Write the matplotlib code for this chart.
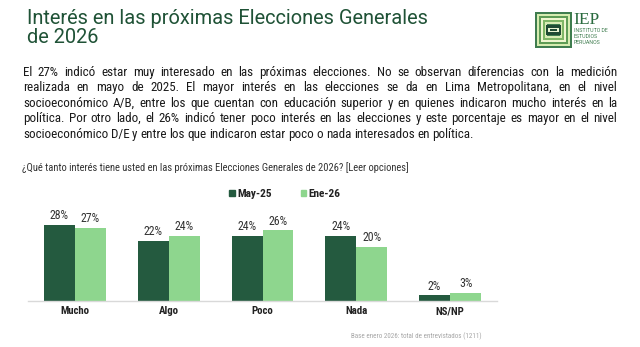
import math
import matplotlib
matplotlib.use("Agg")
import matplotlib.pyplot as plt
from matplotlib import font_manager
from matplotlib.patches import Patch, Rectangle
from matplotlib.backends.backend_agg import get_hinting_flag

# data
categories = ["Mucho", "Algo", "Poco", "Nada", "NS/NP"]
may25 = [28, 22, 24, 24, 2]
ene26 = [27, 24, 26, 20, 3]
series_names = ["May-25", "Ene-26"]

title = "Interés en las próximas Elecciones Generales\nde 2026"
body_lines = [
    "El 27% indicó estar muy interesado en las próximas elecciones. No se observan diferencias con la medición",
    "realizada en mayo de 2025. El mayor interés en las elecciones se da en Lima Metropolitana, en el nivel",
    "socioeconómico A/B, entre los que cuentan con educación superior y en quienes indicaron mucho interés en la",
    "política. Por otro lado, el 26% indicó tener poco interés en las elecciones y este porcentaje es mayor en el nivel",
    "socioeconómico D/E y entre los que indicaron estar poco o nada interesados en política.",
]
question = "¿Qué tanto interés tiene usted en las próximas Elecciones Generales de 2026? [Leer opciones]"
footnote = "Base enero 2026: total de entrevistados (1211)"

DARK = "#245a3f"
LIGHT = "#8ed68e"
TITLE_C = "#1f5236"

installed = {f.name for f in font_manager.fontManager.ttflist}


def pick(*names):
    for n in names:
        if n in installed:
            return n
    return "DejaVu Sans"


narrow = pick("Roboto Condensed", "Liberation Sans Narrow", "Roboto")
main = pick("Roboto", "DejaVu Sans")

W, H = 640, 347
fig = plt.figure(figsize=(6.4, 3.47), dpi=100)
fig.patch.set_facecolor("white")


def fx(px):
    return px / W


def fy(py):
    return 1 - py / H


# title
fig.text(fx(27), fy(9), title, fontsize=14.4, family=main, color=TITLE_C,
         va="top", ha="left", linespacing=1.0)

renderer = fig.canvas.get_renderer()


def snap_baseline(t, row):
    # agg places each word's bitmap by its own ink box, so words jump by a
    # pixel or so; shift every word so its baseline lands on the same row
    font = renderer._prepare_font(t.get_fontproperties())
    font.set_text(t.get_text(), 0, flags=get_hinting_flag())
    d = font.get_descent() / 64
    h = font.get_width_height()[1] / 64
    a = h - d
    y = row - math.floor(a) + math.floor(h) - d
    t.set_y(1 - y / H)


# justified paragraph, one text per word
left, right = 23, 617
line_y = [76, 91, 107, 122, 138]
for i, line in enumerate(body_lines):
    words = line.split(" ")
    texts = [fig.text(0, fy(line_y[i]), w, fontsize=9.4, family=narrow,
                      color="#1a1a1a", va="baseline", ha="left") for w in words]
    widths = [t.get_window_extent(renderer).width for t in texts]
    if i < len(body_lines) - 1:
        gap = (right - left - sum(widths)) / (len(words) - 1)
    else:
        gap = 2.6
    x = left
    for t, w in zip(texts, widths):
        t.set_x(fx(x))
        snap_baseline(t, line_y[i])
        x += w + gap

# question
fig.text(fx(22), fy(168), question, fontsize=7.6, family=narrow,
         color="#333333", va="center", ha="left")

# chart
ax = fig.add_axes([fx(28), fy(300.7), fx(497) - fx(28), (300.7 - 185) / H])
xs = range(len(categories))
bw = 0.33
b1 = ax.bar([x - bw / 2 for x in xs], may25, bw, color=DARK)
b2 = ax.bar([x + bw / 2 for x in xs], ene26, bw, color=LIGHT)
for bars in (b1, b2):
    ax.bar_label(bars, labels=[f"{v:g}%" for v in bars.datavalues],
                 padding=2, fontsize=8.6, family=narrow, color="#333333")
ax.set_xlim(-0.5, 4.5)
ax.set_ylim(0, 42.8)
for s in ["top", "right", "left"]:
    ax.spines[s].set_visible(False)
ax.spines["bottom"].set_color("#d9d9d9")
ax.spines["bottom"].set_linewidth(1)
ax.set_yticks([])
ax.set_xticks(list(xs))
ax.set_xticklabels(categories, fontsize=7.8, fontweight="bold", family=narrow,
                   color="#222222")
ax.tick_params(axis="x", length=0, pad=4)
ax.patch.set_alpha(0)

handles = [Patch(color=DARK), Patch(color=LIGHT)]
fig.legend(handles, series_names, loc="center", bbox_to_anchor=(fx(285), fy(194)),
           ncol=2, frameon=False, handlelength=0.45, handleheight=0.45,
           handletextpad=0.2, columnspacing=2.6,
           prop={"family": narrow, "size": 8.2, "weight": "bold"},
           labelcolor="#222222")

# footnote
fig.text(fx(482), fy(336), footnote, fontsize=5.0, family=narrow,
         color="#a6a6a6", ha="right", va="center")

# logo
lax = fig.add_axes([fx(535), fy(48), fx(572) - fx(535), 36 / H])
lax.set_xlim(0, 1)
lax.set_ylim(0, 1)
lax.axis("off")
ring_cols = ["#3f7d4f", "#d6ecb0", "#5e9c55", "#eef6cf", "#7fb666", "#d9ecb4", "#3f7d4f"]
for k, c in enumerate(ring_cols):
    m = k * 0.055
    lax.add_patch(Rectangle((m, m), 1 - 2 * m, 1 - 2 * m, color=c, lw=0))
lax.add_patch(Rectangle((0.3, 0.36), 0.4, 0.28, color="#1f4a33", lw=0))
lax.add_patch(Rectangle((0.36, 0.44), 0.28, 0.12, color="#e8f2d0", lw=0))
lax.add_patch(Rectangle((0.4, 0.48), 0.2, 0.04, color="#1f4a33", lw=0))

fig.text(fx(573), fy(12), "IEP", fontsize=12.5, family="Liberation Serif",
         color="#2a6b3f", va="top", ha="left")
for j, w in enumerate(["INSTITUTO DE", "ESTUDIOS", "PERUANOS"]):
    fig.text(fx(574), fy(31 + j * 5.5), w, fontsize=3.8, family=main,
             color="#3f7d4f", va="center", ha="left")

fig.savefig("out.png", dpi=100, facecolor="white")
